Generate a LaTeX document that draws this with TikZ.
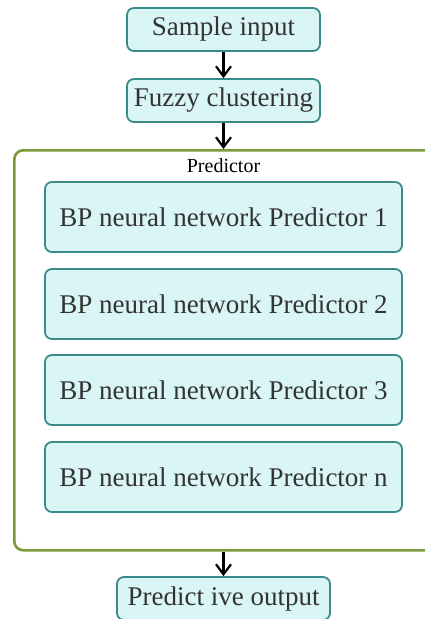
\documentclass[tikz,border=0pt]{standalone}
\usepackage{fontspec}
\setmainfont{Liberation Serif}
\usetikzlibrary{arrows.meta,positioning}
\definecolor{boxfill}{RGB}{218,245,245}
\definecolor{boxline}{RGB}{58,138,138}
\definecolor{frameline}{RGB}{122,154,58}
\definecolor{txt}{RGB}{51,51,51}
\tikzset{
  flowbox/.style={draw=boxline, line width=1.8pt, fill=boxfill, rounded corners=7pt,
    text=txt, font=\fontsize{27}{30}\selectfont, inner sep=0pt},
  smallbox/.style={flowbox, minimum width=193pt, minimum height=43pt},
  predbox/.style={flowbox, minimum width=357pt, minimum height=70pt},
  frame/.style={draw=frameline, line width=2.6pt, rounded corners=9pt},
  flowarrow/.style={draw=black, line width=2.2pt, -{Straight Barb[length=10pt,width=15pt,line width=2.2pt]}}
}
\begin{document}
\begin{tikzpicture}[x=1pt,y=-1pt]
\useasboundingbox (0,0) rectangle (425,619);
\node[smallbox] (input) at (223.5,29.5) {Sample input};
\node[smallbox] (fuzzy) at (223.5,100.5) {Fuzzy clustering};
\node[frame, anchor=north west, minimum width=430pt, minimum height=400pt] (pred) at (13,149) {};
\node[font=\fontsize{20}{22}\selectfont] (predlabel) at (223.5,166) {Predictor};
\node[predbox] (p1) at (223.5,217) {BP neural network Predictor 1};
\node[predbox] (p2) at (223.5,304) {BP neural network Predictor 2};
\node[predbox] (p3) at (223.5,390) {BP neural network Predictor 3};
\node[predbox] (pn) at (223.5,477) {BP neural network Predictor n};
\node[flowbox, minimum width=213pt, minimum height=43pt] (output) at (223.5,598.5) {Predict ive output};
\draw[flowarrow] (input) -- (fuzzy);
\draw[flowarrow] (fuzzy) -- (fuzzy |- pred.north);
\draw[flowarrow] (output |- pred.south) -- (output);
\end{tikzpicture}
\end{document}
